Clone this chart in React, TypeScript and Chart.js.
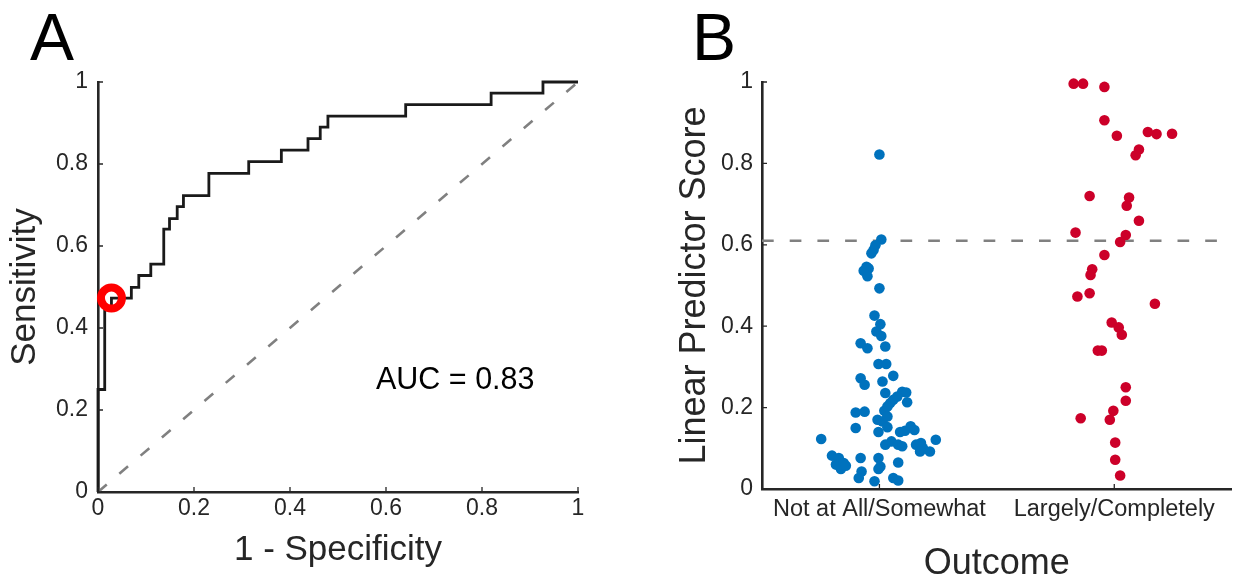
import React, { useEffect, useRef } from "react";
import { Chart, registerables } from "chart.js";

Chart.register(...registerables);

const FONT = "'Liberation Sans', Arial, Helvetica, sans-serif";
const AXIS = "#262626";

// ---------- Panel A: ROC curve ----------
const rocFpr = [0, 0, 0.014, 0.028, 0.0695, 0.085, 0.11, 0.137, 0.149, 0.165, 0.178, 0.231, 0.314, 0.382, 0.4375, 0.463, 0.479, 0.641, 0.819, 0.927, 1.0];
const rocTpr = [0, 0.25, 0.444, 0.473, 0.499, 0.528, 0.556, 0.641, 0.667, 0.696, 0.723, 0.777, 0.806, 0.834, 0.862, 0.89, 0.917, 0.945, 0.973, 1.0, 1.0];
const chanceX = [0, 1];
const chanceY = [0, 1];
const optimalFpr = [0.028];
const optimalTpr = [0.473];
const rocTicks = [0, 0.2, 0.4, 0.6, 0.8, 1];
const aucLabel = "AUC = 0.83";

// ---------- Panel B: linear predictor scores ----------
const outcomeCategories = ["Not at All/Somewhat", "Largely/Completely"];
const scoreTicks = [0, 0.2, 0.4, 0.6, 0.8, 1];
const scoreCutoff = 0.61;
const cutoffX = [0.5, 2.5];

const notAtAllX = [
  1.0, 1.008, 0.983, 0.975, 0.966, 0.945, 0.954, 0.933, 0.949, 1.0,
  0.979, 1.004, 0.987, 1.008, 0.92, 0.949, 1.025, 0.996, 1.029, 0.92,
  0.937, 1.059, 1.013, 1.025, 1.097, 1.114, 1.076, 1.059, 1.046, 1.118,
  0.899, 0.937, 1.021, 1.034, 0.992, 1.013, 1.034, 0.899, 0.996, 1.034,
  1.088, 1.109, 1.133, 1.149, 0.752, 1.025, 1.051, 1.08, 1.097, 1.156,
  1.177, 1.185, 1.173, 1.215, 1.24, 0.798, 0.827, 0.815, 0.848, 0.836,
  0.857, 0.92, 0.924, 0.912, 0.979, 0.996, 1.004, 0.996, 1.08, 1.059,
  1.08,
];
const notAtAllY = [
  0.822, 0.613, 0.599, 0.587, 0.579, 0.546, 0.542, 0.536, 0.523, 0.493,
  0.426, 0.405, 0.387, 0.376, 0.358, 0.346, 0.35, 0.307, 0.307, 0.272,
  0.256, 0.278, 0.264, 0.236, 0.239, 0.237, 0.227, 0.219, 0.211, 0.213,
  0.188, 0.19, 0.192, 0.203, 0.17, 0.166, 0.178, 0.15, 0.14, 0.152,
  0.14, 0.143, 0.154, 0.145, 0.123, 0.109, 0.117, 0.109, 0.105, 0.109,
  0.113, 0.101, 0.092, 0.092, 0.121, 0.082, 0.076, 0.06, 0.064, 0.049,
  0.057, 0.076, 0.043, 0.027, 0.019, 0.076, 0.055, 0.049, 0.065, 0.027,
  0.021,
];

const largelyX = [
  1.827, 1.867, 1.958, 1.958, 2.011, 2.143, 2.18, 2.246, 2.105, 2.091,
  1.895, 2.063, 2.053, 2.105, 1.835, 2.049, 2.025, 1.958, 1.906, 1.899,
  1.843, 1.895, 2.173, 1.989, 2.019, 2.032, 1.93, 1.947, 2.049, 2.049,
  1.996, 1.981, 1.857, 2.004, 2.004, 2.025,
];
const largelyY = [
  0.996, 0.996, 0.988, 0.906, 0.868, 0.877, 0.872, 0.873, 0.834, 0.82,
  0.72, 0.716, 0.696, 0.659, 0.63, 0.624, 0.607, 0.575, 0.54, 0.526,
  0.473, 0.481, 0.455, 0.409, 0.397, 0.379, 0.34, 0.34, 0.25, 0.217,
  0.192, 0.17, 0.174, 0.114, 0.072, 0.033,
];

const zip = (xs: number[], ys: number[]) => xs.map((x, i) => ({ x, y: ys[i] }));

const inwardTicks = {
  id: "inwardTicks",
  afterDatasetsDraw(chart: any) {
    const { ctx, chartArea } = chart;
    const xs = chart.scales.x;
    const ys = chart.scales.y;
    ctx.save();
    ctx.strokeStyle = AXIS;
    ctx.lineWidth = 1.3;
    ctx.beginPath();
    xs.ticks.forEach((t: any) => {
      const p = xs.getPixelForValue(t.value);
      ctx.moveTo(p, chartArea.bottom);
      ctx.lineTo(p, chartArea.bottom - 5);
    });
    ys.ticks.forEach((t: any) => {
      const p = ys.getPixelForValue(t.value);
      ctx.moveTo(chartArea.left, p);
      ctx.lineTo(chartArea.left + 5, p);
    });
    ctx.stroke();
    ctx.restore();
  },
};

function axisBase(opts: {
  min: number;
  max: number;
  ticks: number[];
  labels?: (v: number) => string;
  tickSize: number;
  tickPad: number;
  title: string;
  titleSize: number;
  titlePad: any;
  fit: (s: any) => void;
}) {
  return {
    type: "linear" as const,
    min: opts.min,
    max: opts.max,
    afterBuildTicks: (s: any) => {
      s.ticks = opts.ticks.map((v) => ({ value: v }));
    },
    afterFit: opts.fit,
    grid: { display: false, drawTicks: false },
    border: { display: true, color: AXIS, width: 2.6 },
    ticks: {
      color: AXIS,
      autoSkip: false,
      maxRotation: 0,
      padding: opts.tickPad,
      font: { family: FONT, size: opts.tickSize },
      callback: (v: any) => (opts.labels ? opts.labels(Number(v)) : String(Number(v))),
    },
    title: {
      display: true,
      text: opts.title,
      color: AXIS,
      font: { family: FONT, size: opts.titleSize },
      padding: opts.titlePad,
    },
  };
}

export default function App() {
  const refA = useRef<HTMLCanvasElement | null>(null);
  const refB = useRef<HTMLCanvasElement | null>(null);

  useEffect(() => {
    const chartA = new Chart(refA.current as HTMLCanvasElement, {
      type: "scatter",
      data: {
        datasets: [
          {
            label: "Optimal cut-off",
            data: zip(optimalFpr, optimalTpr),
            showLine: false,
            pointRadius: 10.5,
            pointBorderWidth: 8,
            pointBorderColor: "#ff0000",
            pointBackgroundColor: "rgba(0,0,0,0)",
            clip: false,
          },
          {
            label: "ROC",
            data: zip(rocFpr, rocTpr),
            showLine: true,
            stepped: "before",
            borderColor: "#1a1a1a",
            borderWidth: 2.8,
            pointRadius: 0,
            fill: false,
            clip: false,
          },
          {
            label: "Chance",
            data: zip(chanceX, chanceY),
            showLine: true,
            borderColor: "#808080",
            borderWidth: 2.6,
            borderDash: [11.5, 16.5],
            pointRadius: 0,
            fill: false,
          },
        ],
      },
      options: {
        animation: false,
        responsive: false,
        devicePixelRatio: 1,
        layout: { padding: { left: 0, top: 82, right: 42, bottom: 0 } },
        plugins: { legend: { display: false }, tooltip: { enabled: false } },
        scales: {
          x: axisBase({
            min: 0, max: 1, ticks: rocTicks, tickSize: 23, tickPad: 3,
            title: "1 - Specificity", titleSize: 35, titlePad: { top: 0, bottom: 10 },
            fit: (s: any) => { s.height = 89; },
          }),
          y: axisBase({
            min: 0, max: 1, ticks: rocTicks, tickSize: 23, tickPad: 10,
            title: "Sensitivity", titleSize: 35, titlePad: { top: 4, bottom: 0 },
            fit: (s: any) => { s.width = 98; },
          }),
        },
      } as any,
      plugins: [inwardTicks],
    });

    const chartB = new Chart(refB.current as HTMLCanvasElement, {
      type: "scatter",
      data: {
        datasets: [
          {
            label: outcomeCategories[0],
            data: zip(notAtAllX, notAtAllY),
            pointRadius: 5.3,
            pointBorderWidth: 0,
            pointBackgroundColor: "#0072BD",
            clip: false,
          },
          {
            label: outcomeCategories[1],
            data: zip(largelyX, largelyY),
            pointRadius: 5.3,
            pointBorderWidth: 0,
            pointBackgroundColor: "#CC0029",
            clip: false,
          },
          {
            label: "Cut-off",
            data: cutoffX.map((x) => ({ x, y: scoreCutoff })),
            showLine: true,
            borderColor: "#808080",
            borderWidth: 2.6,
            borderDash: [11.7, 16],
            pointRadius: 0,
            fill: false,
          },
        ],
      },
      options: {
        animation: false,
        responsive: false,
        devicePixelRatio: 1,
        layout: { padding: { left: 0, top: 82, right: 0, bottom: 0 } },
        plugins: { legend: { display: false }, tooltip: { enabled: false } },
        scales: {
          x: axisBase({
            min: 0.5, max: 2.5, ticks: [1, 2],
            labels: (v: number) => outcomeCategories[Math.round(v) - 1] ?? "",
            tickSize: 23.5, tickPad: 6,
            title: "Outcome", titleSize: 36, titlePad: { top: 0, bottom: -5 },
            fit: (s: any) => { s.height = 92; },
          }),
          y: axisBase({
            min: 0, max: 1, ticks: scoreTicks, tickSize: 23, tickPad: 9,
            title: "Linear Predictor Score", titleSize: 36, titlePad: { top: 53, bottom: 0 },
            fit: (s: any) => { s.width = 142; },
          }),
        },
      } as any,
      plugins: [inwardTicks],
    });

    return () => {
      chartA.destroy();
      chartB.destroy();
    };
  }, []);

  const letter: React.CSSProperties = {
    position: "absolute",
    fontFamily: FONT,
    fontSize: 66,
    lineHeight: 1,
    color: "#000",
    margin: 0,
  };

  return (
    <div
      style={{
        position: "fixed",
        left: 0,
        top: 0,
        width: 1237,
        height: 581,
        background: "#fff",
        overflow: "hidden",
      }}
    >
      <canvas ref={refA} width={620} height={581} style={{ position: "absolute", left: 0, top: 0 }} />
      <canvas ref={refB} width={617} height={581} style={{ position: "absolute", left: 620, top: 0 }} />
      <div style={{ ...letter, left: 30, top: 4 }}>A</div>
      <div style={{ ...letter, left: 692, top: 4 }}>B</div>
      <div
        style={{
          position: "absolute",
          left: 376,
          top: 363,
          fontFamily: FONT,
          fontSize: 30.5,
          lineHeight: 1,
          color: "#000",
          whiteSpace: "nowrap",
        }}
      >
        {aucLabel}
      </div>
    </div>
  );
}
